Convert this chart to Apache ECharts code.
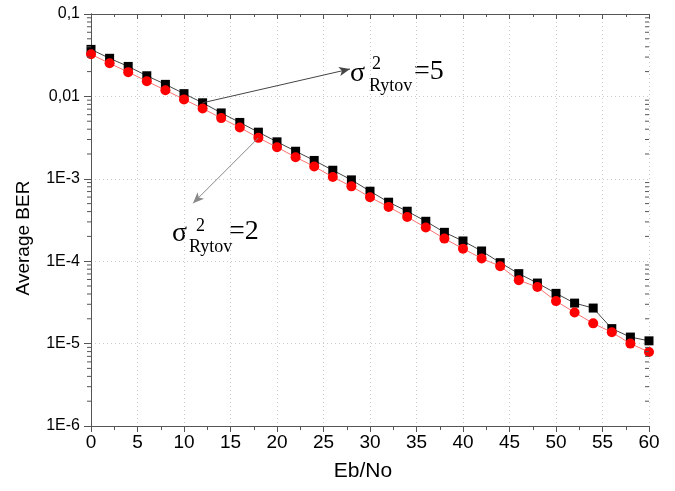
<!DOCTYPE html>
<html><head><meta charset="utf-8">
<script src="https://cdn.jsdelivr.net/npm/echarts@6/dist/echarts.min.js"></script>
<style>html,body{margin:0;padding:0;background:#fff}#c{width:675px;height:491px}</style>
</head><body><div id="c"></div>
<script>
const ebno = [0,2,4,6,8,10,12,14,16,18,20,22,24,26,28,30,32,34,36,38,40,42,44,46,48,50,52,54,56,58,60];
const berRytov5 = [0.0372,0.029,0.0231,0.0178,0.014,0.0108,0.00836,0.0063,0.00483,0.00368,0.00281,0.00216,0.00167,0.00127,0.00097,0.000707,0.00052,0.000404,0.000305,0.000224,0.000176,0.000133,9.6e-5,7.06e-5,5.43e-5,4.07e-5,3.1e-5,2.7e-5,1.52e-5,1.2e-5,1.08e-5];
const berRytov2 = [0.0324,0.0252,0.0197,0.0153,0.0119,0.0092,0.00714,0.00545,0.0042,0.00314,0.00242,0.00183,0.00141,0.00105,0.00081,0.000597,0.000456,0.000344,0.000256,0.000188,0.000142,0.000108,8.7e-5,5.86e-5,4.86e-5,3.28e-5,2.39e-5,1.76e-5,1.37e-5,1.0e-5,7.9e-6];
const yTickLabels = ['1E-6','1E-5','1E-4','1E-3','0,01','0,1'];
const xTitle = 'Eb/No';
const yTitle = 'Average BER';
const arrow5End = [27.85, 0.0215];
const arrow2End = [10.97, 5.05e-4];

const minorVals = [];
for (let e = -6; e < -1; e++) for (let m = 2; m <= 9; m++) minorVals.push([0, m * Math.pow(10, e)]);

const chart = echarts.init(document.getElementById('c'), null, {renderer:'canvas'});
const sans = 'Liberation Sans, Arial, sans-serif';
const serif = 'Liberation Serif, Times New Roman, serif';
const grid = {left:91, right:26, top:14, bottom:65};
chart.setOption({
  animation:false,
  grid: grid,
  xAxis: [{
    type:'value', min:0, max:60, interval:5,
    axisLine:{lineStyle:{color:'#555', width:1}},
    axisTick:{show:true, inside:false, length:6, lineStyle:{color:'#555'}},
    minorTick:{show:true, splitNumber:2, length:4, lineStyle:{color:'#555'}},
    axisLabel:{fontFamily:sans, fontSize:19, color:'#000', margin:7},
    splitLine:{show:true, lineStyle:{color:'#ccc', type:[1,3], width:1}}
  },{
    type:'value', min:0, max:60, interval:5, position:'top',
    axisLine:{show:true, lineStyle:{color:'#555'}},
    axisTick:{show:true, inside:true, length:5, lineStyle:{color:'#555'}},
    minorTick:{show:true, splitNumber:2, length:3, lineStyle:{color:'#555'}},
    axisLabel:{show:false}, splitLine:{show:false}
  }],
  yAxis: [{
    type:'log', logBase:10, min:1e-6, max:0.1,
    axisLine:{show:true, lineStyle:{color:'#555'}},
    axisTick:{show:true, inside:false, length:7, lineStyle:{color:'#555'}},
    axisLabel:{fontFamily:sans, fontSize:16, color:'#000', margin:11,
      formatter:(v,i)=>yTickLabels[i]},
    splitLine:{show:true, lineStyle:{color:'#ccc', type:[1,3], width:1}}
  },{
    type:'log', logBase:10, min:1e-6, max:0.1, position:'right',
    axisLine:{show:true, lineStyle:{color:'#555'}},
    axisTick:{show:true, inside:true, length:7, lineStyle:{color:'#555'}},
    axisLabel:{show:false}, splitLine:{show:false}
  }],
  series: [
    {
      type:'custom', xAxisIndex:0, yAxisIndex:0, clip:false, silent:true, z:5,
      data: minorVals,
      renderItem:(params, api)=>{
        const p = api.coord([0, api.value(1)]);
        const q = api.coord([60, api.value(1)]);
        return {type:'group', children:[
          {type:'line', shape:{x1:p[0]-4, y1:p[1], x2:p[0], y2:p[1]}, style:{stroke:'#555', lineWidth:1}},
          {type:'line', shape:{x1:q[0]-4, y1:q[1], x2:q[0], y2:q[1]}, style:{stroke:'#555', lineWidth:1}}
        ]};
      }
    },
    {
      name:'Rytov5', type:'line', data: ebno.map((x,i)=>[x, berRytov5[i]]),
      symbol:'rect', symbolSize:9, itemStyle:{color:'#000'},
      lineStyle:{color:'#444', width:1}, z:3,
      markLine:{silent:true, symbol:['none','arrow'], symbolSize:[7,11],
        label:{show:false}, lineStyle:{color:'#444', width:1, type:'solid'},
        data:[[{coord:[12, berRytov5[6]]},{coord:arrow5End}]]}
    },
    {
      name:'Rytov2', type:'line', data: ebno.map((x,i)=>[x, berRytov2[i]]),
      symbol:'circle', symbolSize:10, itemStyle:{color:'#ff0000'},
      lineStyle:{color:'#ff7070', width:1}, z:4,
      markLine:{silent:true, symbol:['none','arrow'], symbolSize:[7,11],
        label:{show:false}, lineStyle:{color:'#888', width:1, type:'solid'},
        data:[[{coord:[18, berRytov2[9]]},{coord:arrow2End}]]}
    }
  ],
  graphic: [
    {type:'text', x:24, y:238, rotation:Math.PI/2,
      style:{text:yTitle, font:'19px '+sans, fill:'#000', align:'center', verticalAlign:'middle'}},
    {type:'text', x:363, y:471,
      style:{text:xTitle, font:'21px '+sans, fill:'#000', align:'center', verticalAlign:'middle'}},
    {type:'text', left:350, top:60, style:{text:'σ', font:'28px '+serif, fill:'#000'}},
    {type:'text', left:372, top:55, style:{text:'2', font:'18px '+serif, fill:'#000'}},
    {type:'text', left:369, top:77, style:{text:'Rytov', font:'18px '+serif, fill:'#000'}},
    {type:'text', left:414, top:58, style:{text:'=5', font:'28px '+serif, fill:'#000'}},
    {type:'text', left:172, top:220, style:{text:'σ', font:'28px '+serif, fill:'#000'}},
    {type:'text', left:196, top:217, style:{text:'2', font:'18px '+serif, fill:'#000'}},
    {type:'text', left:189, top:238, style:{text:'Rytov', font:'18px '+serif, fill:'#000'}},
    {type:'text', left:229, top:218, style:{text:'=2', font:'28px '+serif, fill:'#000'}}
  ]
});
</script></body></html>
